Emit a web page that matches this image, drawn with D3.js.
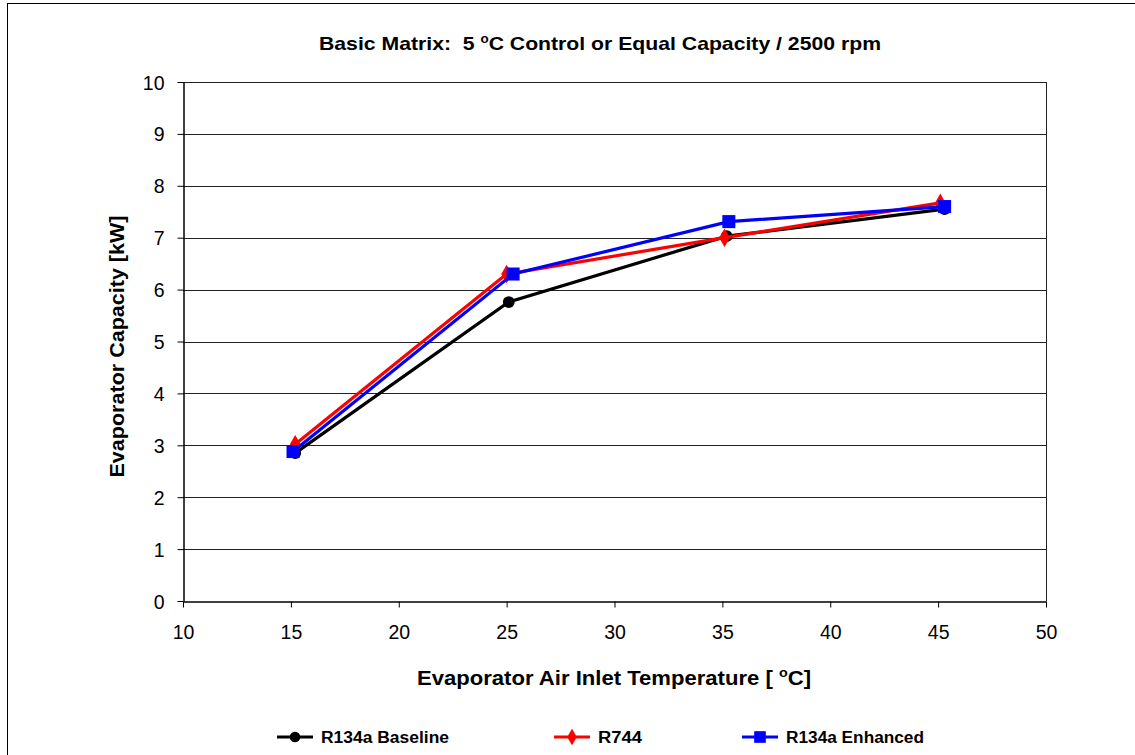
<!DOCTYPE html>
<html>
<head>
<meta charset="utf-8">
<script src="https://cdn.jsdelivr.net/npm/d3@7"></script>
<style>
  body { margin: 0; background: #fff; }
  svg { font-family: "Liberation Sans", Arial, sans-serif; }
  text { white-space: pre; }
</style>
</head>
<body>
<svg id="chart"></svg>
<script>
// data
const seriesNames = ["R134a Baseline", "R744", "R134a Enhanced"];
const baselineX = [15.2, 25.1, 35.2, 45.3];
const baselineY = [2.85, 5.76, 7.03, 7.55];
const r744X = [15.2, 25.0, 35.1, 45.1];
const r744Y = [3.02, 6.3, 7.0, 7.67];
const enhancedX = [15.1, 25.3, 35.3, 45.3];
const enhancedY = [2.88, 6.3, 7.31, 7.6];
const xTicks = [10, 15, 20, 25, 30, 35, 40, 45, 50];
const yTicks = [0, 1, 2, 3, 4, 5, 6, 7, 8, 9, 10];

const width = 1135;
const height = 755;
const margin = { top: 82, right: 89, bottom: 154, left: 183 };

const svg = d3.select("#chart").attr("width", width).attr("height", height);

// outer frame
svg.append("rect")
  .attr("x", 7.5).attr("y", 3.5)
  .attr("width", width + 10).attr("height", height + 10)
  .attr("fill", "none").attr("stroke", "#000").attr("stroke-width", 1);

const x = d3.scaleLinear().domain([10, 50]).range([margin.left, width - margin.right]);
const y = d3.scaleLinear().domain([0, 10]).range([height - margin.bottom, margin.top]);

// grid lines
svg.append("g")
  .selectAll("line")
  .data(yTicks.slice(1))
  .enter()
  .append("line")
  .attr("x1", x(10)).attr("x2", x(50))
  .attr("y1", (d) => Math.round(y(d)) + 0.5)
  .attr("y2", (d) => Math.round(y(d)) + 0.5)
  .attr("stroke", "#222").attr("stroke-width", 1);

// right border of plot area
svg.append("line")
  .attr("x1", Math.round(x(50)) + 0.5).attr("x2", Math.round(x(50)) + 0.5)
  .attr("y1", y(10)).attr("y2", y(0))
  .attr("stroke", "#222");

// axes
const xAxis = svg.append("g")
  .attr("transform", `translate(0,${Math.round(y(0)) + 0.5})`)
  .call(d3.axisBottom(x).tickValues(xTicks).tickSize(6).tickPadding(15).tickSizeOuter(0));
const yAxis = svg.append("g")
  .attr("transform", `translate(${Math.round(x(10)) + 0.5},0)`)
  .call(d3.axisLeft(y).tickValues(yTicks).tickSize(6).tickPadding(13).tickSizeOuter(0));

[xAxis, yAxis].forEach((g) => {
  g.selectAll("path").attr("stroke", "#000").attr("stroke-width", 1.5);
  g.selectAll("line").attr("stroke", "#000");
  g.selectAll("text")
    .attr("fill", "#000")
    .style("font-size", "19.5px")
    .style("font-family", "'Liberation Sans', Arial, sans-serif");
});
xAxis.selectAll("text").attr("dy", "0.85em");
yAxis.selectAll("text").attr("dy", "0.36em");

// titles
const title = svg.append("text")
  .attr("x", 600).attr("y", 50)
  .attr("text-anchor", "middle")
  .attr("textLength", 562).attr("lengthAdjust", "spacingAndGlyphs")
  .style("font-size", "19px").style("font-weight", "bold");
title.append("tspan").text("Basic Matrix:  5 ");
title.append("tspan").attr("dy", -7).style("font-size", "12px").text("o");
title.append("tspan").attr("dy", 7).text("C Control or Equal Capacity / 2500 rpm");

const xTitle = svg.append("text")
  .attr("x", 614).attr("y", 685)
  .attr("text-anchor", "middle")
  .attr("textLength", 394).attr("lengthAdjust", "spacingAndGlyphs")
  .style("font-size", "20px").style("font-weight", "bold");
xTitle.append("tspan").text("Evaporator Air Inlet Temperature [ ");
xTitle.append("tspan").attr("dy", -8).style("font-size", "13px").text("o");
xTitle.append("tspan").attr("dy", 8).text("C]");

svg.append("text")
  .attr("transform", `translate(124,${(y(0) + y(10)) / 2 + 5}) rotate(-90)`)
  .attr("text-anchor", "middle")
  .attr("textLength", 262).attr("lengthAdjust", "spacingAndGlyphs")
  .style("font-size", "20px").style("font-weight", "bold")
  .text("Evaporator Capacity [kW]");

// series
const series = [
  { name: seriesNames[0], xs: baselineX, ys: baselineY, color: "#000000", marker: d3.symbolCircle, size: 110 },
  { name: seriesNames[1], xs: r744X, ys: r744Y, color: "#ff0000", marker: d3.symbolDiamond, size: 100 },
  { name: seriesNames[2], xs: enhancedX, ys: enhancedY, color: "#0000ff", marker: d3.symbolSquare, size: 170 },
];

const line = d3.line().x((d) => x(d[0])).y((d) => y(d[1]));

series.forEach((s) => {
  const pts = s.xs.map((v, i) => [v, s.ys[i]]);
  const g = svg.append("g");
  g.append("path")
    .datum(pts)
    .attr("fill", "none")
    .attr("stroke", s.color)
    .attr("stroke-width", 3.2)
    .attr("d", line);
  g.selectAll("path.marker")
    .data(pts)
    .enter()
    .append("path")
    .attr("class", "marker")
    .attr("d", d3.symbol().type(s.marker).size(s.size))
    .attr("transform", (d) => `translate(${x(d[0])},${y(d[1])})`)
    .attr("fill", s.color);
});

// legend
const legendX = [295, 572, 760];
const legendTextW = [128, 44, 138];
const legendY = 737;
series.forEach((s, i) => {
  const g = svg.append("g").attr("transform", `translate(${legendX[i]},${legendY})`);
  g.append("line")
    .attr("x1", -18).attr("x2", 18)
    .attr("stroke", s.color).attr("stroke-width", 3.2);
  g.append("path")
    .attr("d", d3.symbol().type(s.marker).size(s.size * 0.8))
    .attr("fill", s.color);
  g.append("text")
    .attr("x", 26).attr("y", 6)
    .attr("textLength", legendTextW[i]).attr("lengthAdjust", "spacingAndGlyphs")
    .style("font-size", "16px").style("font-weight", "bold")
    .text(s.name);
});
</script>
</body>
</html>
